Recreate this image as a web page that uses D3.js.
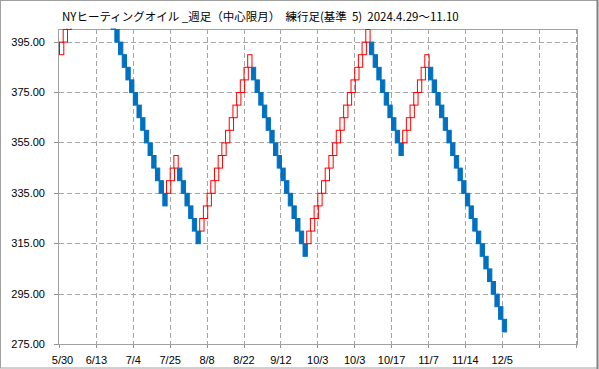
<!DOCTYPE html>
<html lang="ja">
<head>
<meta charset="UTF-8">
<script src="https://d3js.org/d3.v7.min.js"></script>
<style>
  body { margin: 0; background: #fff; }
  svg { display: block; }
</style>
</head>
<body>
<div id="chart"></div>
<script>
// renko bricks (box size 5): lower edge of each brick, and its direction (1 up / -1 down)
const brickLow = [
  390, 395, 400, 405, 410, 415, 420, 425, 430,
  425, 420, 415, 410, 405, 400,
  395, 390, 385, 380, 375, 370, 365, 360, 355, 350, 345, 340, 335, 330,
  335, 340, 345,
  340, 335, 330, 325, 320, 315,
  320, 325, 330, 335, 340, 345, 350, 355, 360, 365, 370, 375, 380, 385,
  380, 375, 370, 365, 360, 355, 350, 345, 340, 335, 330, 325, 320, 315, 310,
  315, 320, 325, 330, 335, 340, 345, 350, 355, 360, 365, 370, 375, 380, 385, 390, 395,
  390, 385, 380, 375, 370, 365, 360, 355, 350,
  355, 360, 365, 370, 375, 380, 385,
  380, 375, 370, 365, 360, 355, 350, 345, 340, 335, 330, 325, 320, 315, 310, 305, 300, 295, 290, 285, 280
];
const brickDir = [
  1, 1, 1, 1, 1, 1, 1, 1, 1,
  -1, -1, -1, -1, -1, -1,
  -1, -1, -1, -1, -1, -1, -1, -1, -1, -1, -1, -1, -1, -1,
  1, 1, 1,
  -1, -1, -1, -1, -1, -1,
  1, 1, 1, 1, 1, 1, 1, 1, 1, 1, 1, 1, 1, 1,
  -1, -1, -1, -1, -1, -1, -1, -1, -1, -1, -1, -1, -1, -1, -1,
  1, 1, 1, 1, 1, 1, 1, 1, 1, 1, 1, 1, 1, 1, 1, 1, 1,
  -1, -1, -1, -1, -1, -1, -1, -1, -1,
  1, 1, 1, 1, 1, 1, 1,
  -1, -1, -1, -1, -1, -1, -1, -1, -1, -1, -1, -1, -1, -1, -1, -1, -1, -1, -1, -1, -1
];
const boxSize = 5;
const yTicks = [275, 295, 315, 335, 355, 375, 395];
const xTickLabels = ["5/30", "6/13", "7/4", "7/25", "8/8", "8/22", "9/12", "10/3", "10/3", "10/17", "11/7", "11/14", "12/5"];
const titleText = "NYヒーティングオイル _週足（中心限月）\u00a0\u00a0練行足(基準\u00a0 5)\u00a0\u00a02024.4.29～11.10";

const width = 599, height = 369;
const plot = {left: 59, top: 29, right: 578, bottom: 344};

const svg = d3.select('#chart').append('svg')
    .attr('width', width)
    .attr('height', height);

// outer frame
svg.append('rect')
    .attr('x', 0.5).attr('y', 0.5)
    .attr('width', width - 2).attr('height', height - 1.5)
    .attr('fill', '#fff')
    .attr('stroke', '#a0a0a0');
svg.append('line')
    .attr('x1', 597.5).attr('x2', 597.5).attr('y1', 0).attr('y2', height)
    .attr('stroke', '#808080').attr('stroke-width', 2);

const x = d3.scaleLinear().domain([0, 140]).range([plot.left, 575.6]);
const y = d3.scaleLinear().domain([275, 400]).range([plot.bottom, plot.top]);

const gridColor = '#a6a6a6';

// horizontal grid
svg.append('g')
  .selectAll('line')
  .data(yTicks.slice(1))
  .join('line')
    .attr('x1', plot.left).attr('x2', plot.right)
    .attr('y1', d => Math.round(y(d)) + 0.5)
    .attr('y2', d => Math.round(y(d)) + 0.5)
    .attr('stroke', gridColor)
    .attr('stroke-dasharray', '5,3');

// vertical grid (every 10 bricks)
const xGrid = d3.range(10, 141, 10);
svg.append('g')
  .selectAll('line')
  .data(xGrid)
  .join('line')
    .attr('x1', d => Math.round(x(d)) + 0.5)
    .attr('x2', d => Math.round(x(d)) + 0.5)
    .attr('y1', plot.top).attr('y2', plot.bottom)
    .attr('stroke', gridColor)
    .attr('stroke-dasharray', '5,3');

// x tick marks below axis
svg.append('g')
  .selectAll('line')
  .data(d3.range(0, 141, 10))
  .join('line')
    .attr('x1', d => Math.round(x(d)) + 0.5)
    .attr('x2', d => Math.round(x(d)) + 0.5)
    .attr('y1', plot.bottom).attr('y2', plot.bottom + 4)
    .attr('stroke', '#909090');

// y tick marks
svg.append('g')
  .selectAll('line')
  .data(yTicks)
  .join('line')
    .attr('x1', plot.left - 5).attr('x2', plot.left)
    .attr('y1', d => Math.round(y(d)) + 0.5)
    .attr('y2', d => Math.round(y(d)) + 0.5)
    .attr('stroke', '#909090');

// plot border
svg.append('rect')
    .attr('x', plot.left - 0.5).attr('y', plot.top + 0.5)
    .attr('width', plot.right - plot.left).attr('height', plot.bottom - plot.top)
    .attr('fill', 'none')
    .attr('stroke', '#a0a0a0');

// bricks
svg.append('clipPath').attr('id', 'clip')
  .append('rect')
    .attr('x', plot.left - 1).attr('y', plot.top - 0.5)
    .attr('width', plot.right - plot.left + 1).attr('height', plot.bottom - plot.top + 1);

const bricks = brickLow.map((v, i) => ({i: i, low: v, dir: brickDir[i]}));
const brickW = 4.3;

svg.append('g')
    .attr('clip-path', 'url(#clip)')
  .selectAll('rect')
  .data(bricks)
  .join('rect')
    .attr('x', d => x(d.i) + 0.5)
    .attr('y', d => y(d.low + boxSize) + 0.5)
    .attr('width', brickW)
    .attr('height', d => y(d.low) - y(d.low + boxSize))
    .attr('fill', d => d.dir > 0 ? 'none' : '#0070c0')
    .attr('stroke', d => d.dir > 0 ? '#ff0000' : '#0070c0')
    .attr('stroke-width', 1);

// y labels
svg.append('g')
  .selectAll('text')
  .data(yTicks)
  .join('text')
    .attr('x', 45)
    .attr('y', d => y(d) + 4)
    .attr('text-anchor', 'end')
    .attr('font-family', 'Liberation Sans, Arial, sans-serif')
    .attr('font-size', 11)
    .attr('fill', '#000')
    .text(d => d.toFixed(2));

// x labels
svg.append('g')
  .selectAll('text')
  .data(xTickLabels)
  .join('text')
    .attr('x', (d, i) => x(i * 10) + (i === 0 ? 3.5 : 0.5))
    .attr('y', 364)
    .attr('text-anchor', 'middle')
    .attr('font-family', 'Liberation Sans, Arial, sans-serif')
    .attr('font-size', 11)
    .attr('fill', '#000')
    .text(d => d);

// title
svg.append('text')
    .attr('x', 62)
    .attr('y', 21)
    .attr('font-family', 'Noto Sans CJK JP, sans-serif')
    .attr('font-size', 11.5)
    .attr('fill', '#000')
    .text(titleText);
</script>
</body>
</html>
